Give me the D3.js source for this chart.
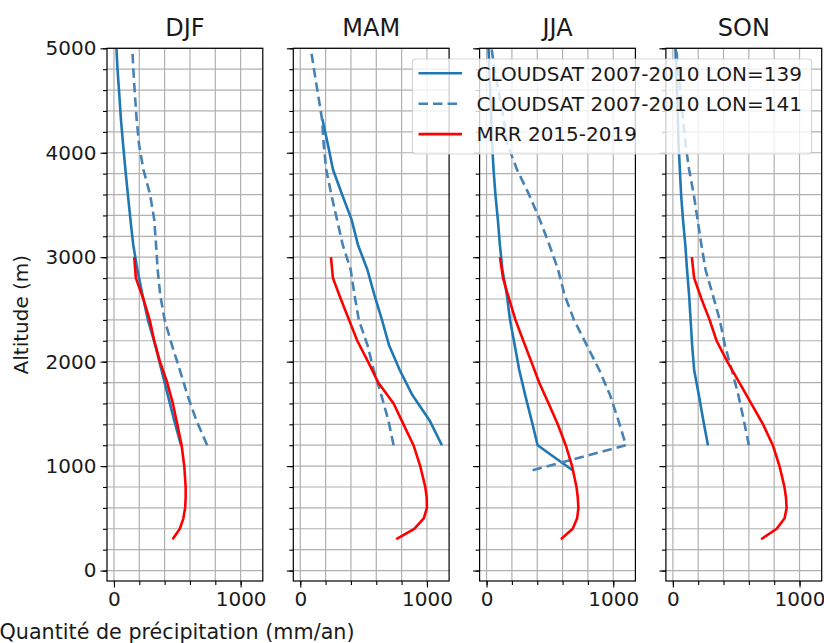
<!DOCTYPE html>
<html>
<head>
<meta charset="utf-8">
<script src="https://cdn.jsdelivr.net/npm/d3@7"></script>
<style>
  html, body { margin: 0; padding: 0; background: #fff; }
  svg { display: block; font-family: "DejaVu Sans", sans-serif; }
</style>
</head>
<body>
<svg id="chart" width="824" height="643"></svg>
<script>
// Seasons shown as panels
const seasons = ["DJF", "MAM", "JJA", "SON"];

// CloudSat altitude bins (m), lowest to highest
const csLevels = [1200, 1440, 1680, 1920, 2160, 2400, 2640, 2880, 3120, 3360, 3600, 3840, 4080, 4320, 4560, 4800, 5040];
const csLevelsJJA = [960, 1200, 1440, 1680, 1920, 2160, 2400, 2640, 2880, 3120, 3360, 3600, 3840, 4080, 4320, 4560, 4800, 5040];

// CloudSat 2007-2010, LON=139 (mm/an)
const cs139DJF = [529, 475, 425, 375, 325, 268, 225, 185, 152, 130, 110, 90, 72, 55, 42, 28, 18];
const cs139MAM = [1118, 1020, 885, 785, 700, 645, 585, 530, 455, 405, 330, 258, 218, 175, null, null, null];
const cs139JJA = [679, 403, 355, 305, 258, 222, 185, 160, 125, 105, 89, 70, 55, 44, 37, 30, 22, 14];
const cs139SON = [277, 240, 205, 168, 152, 140, 128, 112, 98, 80, 65, 55, 45, 39, 33, 26, 20];

// CloudSat 2007-2010, LON=141 (mm/an)
const cs141DJF = [736, 650, 580, 520, 457, 400, 365, 345, 332, 318, 285, 232, 198, 179, 165, 153, 143];
const cs141MAM = [737, 695, 640, 580, 530, 462, 428, 398, 335, 290, 245, 205, 185, 172, 140, 108, 78];
const cs141JJA = [363, 1100, 1040, 975, 890, 790, 690, 615, 565, 495, 420, 335, 240, 165, 135, 100, 62, 35];
const cs141SON = [600, 560, 517, 465, 410, 370, 315, 258, 225, 195, 165, 128, 100, 80, 62, 40, 24];

// MRR 2015-2019 altitudes (m) and precipitation (mm/an)
const mrrLevels = [300, 400, 500, 600, 700, 800, 1000, 1200, 1400, 1600, 1800, 2000, 2200, 2400, 2600, 2800, 3000];
const mrrDJF = [463, 520, 548, 562, 566, 566, 555, 534, 500, 465, 420, 363, 318, 282, 232, 173, 160];
const mrrMAM = [758, 900, 975, 1000, 998, 987, 947, 894, 815, 737, 615, 535, 450, 385, 320, 258, 242];
const mrrJJA = [587, 680, 715, 725, 720, 710, 675, 625, 562, 490, 415, 353, 290, 228, 178, 130, 106];
const mrrSON = [697, 820, 882, 898, 893, 881, 842, 789, 712, 618, 525, 430, 345, 290, 226, 168, 150];

// Axis ticks
const xMajorTicks = [0, 1000];
const xMinorTicks = [0, 200, 400, 600, 800, 1000];
const yMajorTicks = [0, 1000, 2000, 3000, 4000, 5000];
const yMinorTicks = [0, 200, 400, 600, 800, 1000, 1200, 1400, 1600, 1800, 2000, 2200, 2400, 2600, 2800, 3000,
                     3200, 3400, 3600, 3800, 4000, 4200, 4400, 4600, 4800, 5000];

const legendLabels = ["CLOUDSAT 2007-2010 LON=139", "CLOUDSAT 2007-2010 LON=141", "MRR 2015-2019"];

const panelData = {
  DJF: { cs139: [csLevels, cs139DJF], cs141: [csLevels, cs141DJF], mrr: [mrrLevels, mrrDJF] },
  MAM: { cs139: [csLevels, cs139MAM], cs141: [csLevels, cs141MAM], mrr: [mrrLevels, mrrMAM] },
  JJA: { cs139: [csLevelsJJA, cs139JJA], cs141: [csLevelsJJA, cs141JJA], mrr: [mrrLevels, mrrJJA] },
  SON: { cs139: [csLevels, cs139SON], cs141: [csLevels, cs141SON], mrr: [mrrLevels, mrrSON] }
};

const styles = {
  cs139: { color: "#1f77b4", dash: null },
  cs141: { color: "#4682b4", dash: "9.5,5" },
  mrr:   { color: "#ff0000", dash: null }
};

// Layout
const panelLeft = 107, panelStep = 186.3, panelW = 155.8;
const panelTop = 48.3, panelBottom = 581;
const textColor = "#1a1a1a";

const svg = d3.select("#chart");

const x = d3.scaleLinear().domain([-55, 1175]).range([0, panelW]);
const y = d3.scaleLinear().domain([-100, 5000]).range([panelBottom, panelTop]);

const defs = svg.append("defs");

seasons.forEach((season, i) => {
  const left = panelLeft + i * panelStep;
  const g = svg.append("g").attr("transform", `translate(${left},0)`);

  defs.append("clipPath").attr("id", `clip-${season}`)
    .append("rect").attr("x", 0).attr("y", panelTop).attr("width", panelW).attr("height", panelBottom - panelTop);

  // grid (major + minor)
  const grid = g.append("g").attr("stroke", "#b0b0b0").attr("stroke-width", 1.2);
  grid.selectAll("line.gx").data(xMinorTicks).join("line")
    .attr("x1", d => x(d)).attr("x2", d => x(d))
    .attr("y1", panelTop).attr("y2", panelBottom);
  grid.selectAll("line.gy").data(yMinorTicks).join("line")
    .attr("x1", 0).attr("x2", panelW)
    .attr("y1", d => y(d)).attr("y2", d => y(d));

  // data lines
  const plot = g.append("g").attr("clip-path", `url(#clip-${season})`);
  ["cs139", "cs141", "mrr"].forEach(key => {
    const [alts, vals] = panelData[season][key];
    const pts = alts.map((a, k) => ({ alt: a, v: vals[k] }));
    const line = d3.line()
      .defined(d => d.v !== null)
      .x(d => x(d.v)).y(d => y(d.alt));
    const p = plot.append("path").datum(pts)
      .attr("d", line)
      .attr("fill", "none")
      .attr("stroke", styles[key].color)
      .attr("stroke-width", 2.6)
      .attr("stroke-linejoin", "round");
    if (styles[key].dash) p.attr("stroke-dasharray", styles[key].dash);
  });

  // axes
  const xAxisMinor = d3.axisBottom(x).tickValues(xMinorTicks).tickSize(4).tickFormat("");
  const xAxisMajor = d3.axisBottom(x).tickValues(xMajorTicks).tickSize(6.5).tickPadding(4).tickFormat(d3.format("d"));
  const yAxisMinor = d3.axisLeft(y).tickValues(yMinorTicks).tickSize(4).tickFormat("");
  const yAxisMajor = d3.axisLeft(y).tickValues(yMajorTicks).tickSize(6.5).tickPadding(4)
    .tickFormat(i === 0 ? d3.format("d") : "");

  [xAxisMinor, xAxisMajor].forEach(ax => {
    const a = g.append("g").attr("transform", `translate(0,${panelBottom})`).call(ax);
    a.select(".domain").remove();
    a.selectAll("line").attr("stroke", "#000").attr("stroke-width", 1.1);
    a.selectAll("text").attr("font-size", 20).attr("font-family", "DejaVu Sans").attr("fill", textColor);
  });
  [yAxisMinor, yAxisMajor].forEach(ax => {
    const a = g.append("g").call(ax);
    a.select(".domain").remove();
    a.selectAll("line").attr("stroke", "#000").attr("stroke-width", 1.1);
    a.selectAll("text").attr("font-size", 20).attr("font-family", "DejaVu Sans").attr("fill", textColor);
  });

  // frame
  g.append("rect").attr("x", 0).attr("y", panelTop).attr("width", panelW).attr("height", panelBottom - panelTop)
    .attr("fill", "none").attr("stroke", "#000").attr("stroke-width", 1.2);

  // title
  g.append("text").attr("x", panelW / 2).attr("y", 36)
    .attr("text-anchor", "middle").attr("font-size", 24).attr("fill", textColor)
    .text(season);
});

// axis labels
svg.append("text")
  .attr("transform", `translate(28,${(panelTop + panelBottom) / 2}) rotate(-90)`)
  .attr("text-anchor", "middle").attr("font-size", 20).attr("fill", textColor)
  .text("Altitude (m)");

svg.append("text")
  .attr("x", 177).attr("y", 639)
  .attr("text-anchor", "middle").attr("font-size", 20.7).attr("fill", textColor)
  .text("Quantité de précipitation (mm/an)");

// legend
const legend = svg.append("g").attr("transform", "translate(412.5,59)");
legend.append("rect").attr("width", 399).attr("height", 95).attr("rx", 3.5)
  .attr("fill", "#fff").attr("fill-opacity", 0.8)
  .attr("stroke", "#cccccc").attr("stroke-opacity", 0.8).attr("stroke-width", 1.2);
const legendKeys = ["cs139", "cs141", "mrr"];
legendKeys.forEach((key, k) => {
  const ly = 14.3 + k * 30.4;
  const l = legend.append("line").attr("x1", 6).attr("x2", 49.5).attr("y1", ly).attr("y2", ly)
    .attr("stroke", styles[key].color).attr("stroke-width", 2.6);
  if (styles[key].dash) l.attr("stroke-dasharray", styles[key].dash);
  legend.append("text").attr("x", 64).attr("y", ly).attr("dy", "0.36em")
    .attr("font-size", 20).attr("fill", textColor).text(legendLabels[k]);
});
</script>
</body>
</html>
